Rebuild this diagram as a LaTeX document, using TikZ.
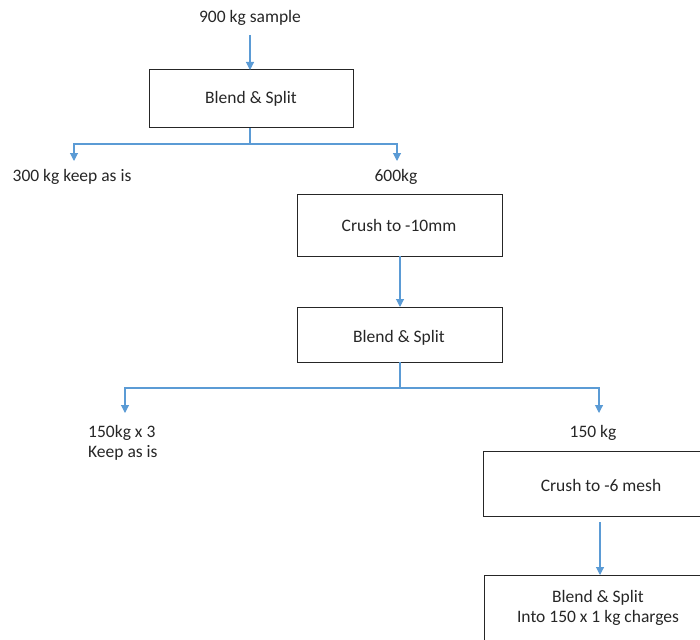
\documentclass[tikz,border=0pt]{standalone}
\usepackage{fontspec}
\setmainfont{Carlito}
\usetikzlibrary{arrows.meta}
\definecolor{flowblue}{HTML}{5B9BD5}
\definecolor{txt}{HTML}{262626}
\begin{document}
\begin{tikzpicture}[x=1pt,y=-1pt,
  every node/.style={font=\fontsize{17.5}{20.5}\selectfont, text=txt, inner sep=0pt},
  procbox/.style={draw=black!85, line width=1pt, fill=none},
  flow/.style={draw=flowblue, line width=1.1pt, -{Triangle[width=8pt,length=8pt]}},
  flowline/.style={draw=flowblue, line width=1.1pt}]
\useasboundingbox (0,0) rectangle (700,639);
% nodes
\node (s900) at (250,18) {900 kg sample};
\draw[procbox] (149,70) rectangle (353,128);
\node (b1) at (251,99) {Blend \& Split};
\coordinate (b1t) at (250,70);
\coordinate (b1b) at (250,128);
\node (k300) at (72,177) {300 kg keep as is};
\node (s600) at (396,177) {600kg};
\draw[procbox] (297,194) rectangle (502,256);
\node (c10) at (399,225) {Crush to -10mm};
\coordinate (c10b) at (400,256);
\coordinate (b2t) at (400,307);
\draw[procbox] (297,307) rectangle (502,362);
\node (b2) at (399,338) {Blend \& Split};
\coordinate (b2b) at (400,362);
\node[align=left, anchor=west] (k150) at (88,443) {150kg x 3\\Keep as is};
\node (s150) at (593,433) {150 kg};
\draw[procbox] (483,451) rectangle (720,516);
\node (c6) at (601,485) {Crush to -6 mesh};
\coordinate (c6b) at (600,522);
\coordinate (b3t) at (600,575);
\draw[procbox] (484,575) rectangle (720,660);
\node[align=center] (b3) at (598,608) {Blend \& Split\\Into 150 x 1 kg charges};
% connectors
\coordinate (j1) at (250,144);
\coordinate (j1l) at (74,144);
\coordinate (j1r) at (397,144);
\coordinate (a300) at (74,161);
\coordinate (a600) at (397,161);
\draw[flow] (s900.south |- 0,35) -- (b1t);
\draw[flowline] (b1b) -- (j1);
\draw[flow] (j1) -- (j1l) -- (a300);
\draw[flow] (j1) -- (j1r) -- (a600);
\draw[flow] (c10b) -- (b2t);
\coordinate (j2) at (400,388);
\coordinate (j2l) at (125,388);
\coordinate (j2r) at (599,388);
\coordinate (a150l) at (125,413);
\coordinate (a150r) at (599,413);
\draw[flowline] (b2b) -- (j2);
\draw[flow] (j2) -- (j2l) -- (a150l);
\draw[flow] (j2) -- (j2r) -- (a150r);
\draw[flow] (c6b) -- (b3t);
\end{tikzpicture}
\end{document}
